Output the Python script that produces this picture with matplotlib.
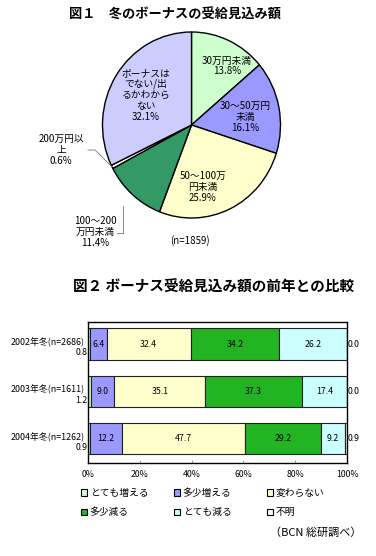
import numpy as np
import matplotlib
matplotlib.use("Agg")
import matplotlib.pyplot as plt
from matplotlib.patches import Patch
from matplotlib.transforms import blended_transform_factory

plt.rcParams['font.family'] = ['Noto Sans CJK JP', 'DejaVu Sans']

### ~~~~~~~~~~~~~~~~~~~~ data ~~~~~~~~~~~~~~~~~~~~ ###
pie_labels = ['30万円未満', '30～50万円\n未満', '50～100万\n円未満', '100～200\n万円未満',
              '200万円以\n上', 'ボーナスは\nでない/出\nるかわから\nない']
pie_values = [13.8, 16.1, 25.9, 11.4, 0.6, 32.1]
pie_colors = ['#ccffcc', '#9999ff', '#ffffcc', '#339966', '#ffffff', '#ccccff']
pie_n = 1859

years = ['2002年冬(n=2686)', '2003年冬(n=1611)', '2004年冬(n=1262)']
categories = ['とても増える', '多少増える', '変わらない', '多少減る', 'とても減る', '不明']
bar_colors = ['#ccffcc', '#9999ff', '#ffffcc', '#22b422', '#ccffff', '#ffffff']
bar_values = np.array([
    [0.8, 6.4, 32.4, 34.2, 26.2, 0.0],
    [1.2, 9.0, 35.1, 37.3, 17.4, 0.0],
    [0.9, 12.2, 47.7, 29.2, 9.2, 0.9],
])
xticks = [0, 20, 40, 60, 80, 100]

W, H = 376, 556
fig = plt.figure(figsize=(W / 100, H / 100), dpi=100)
fig.patch.set_facecolor('white')

def fx(px):
    return px / W

def fy(py):
    return 1 - py / H

### ~~~~~~~~~~~~~~~~~~~~ pie ~~~~~~~~~~~~~~~~~~~~ ###
fig.text(fx(175), fy(15), '図１　冬のボーナスの受給見込み額', ha='center', va='center',
         fontsize=9.5, fontweight='bold')

cx, cy, rx, ry = 191.5, 125, 89, 93
axp = fig.add_axes([fx(cx - rx), fy(cy + ry), 2 * rx / W, 2 * ry / H])
wedges, _ = axp.pie(pie_values, colors=pie_colors, startangle=90, counterclock=False,
                    radius=1.0, wedgeprops=dict(edgecolor='black', linewidth=1.0))
axp.set_aspect('auto')
axp.set_xlim(-1, 1)
axp.set_ylim(-1, 1)
axp.axis('off')

def pd(px, py):
    return ((px - cx) / rx, (cy - py) / ry)

inside = {0: (227, 66), 1: (245, 117), 2: (203, 187), 5: (146, 95)}
for i, pos in inside.items():
    axp.text(*pd(*pos), pie_labels[i] + '\n%.1f%%' % pie_values[i], ha='center', va='center',
             fontsize=7, linespacing=1.12)

# outside labels with leader lines
outside = {4: ((61, 150), (88, 150), 95, 0.5), 3: ((95, 232), (117, 233), 123, 0.8)}
for i, (tpos, lstart, kx, frac) in outside.items():
    w = wedges[i]
    ang = np.deg2rad(w.theta1 + (w.theta2 - w.theta1) * frac)
    axp.text(*pd(*tpos), pie_labels[i] + '\n%.1f%%' % pie_values[i], ha='center', va='center',
             fontsize=7, linespacing=1.12)
    ex, ey = np.cos(ang), np.sin(ang)
    sx, sy = pd(*lstart)
    kxd = (kx - cx) / rx
    if i == 4:
        axp.plot([sx, kxd, ex], [sy, sy, ey], color='#777777', lw=0.6, clip_on=False)
    else:
        axp.plot([sx, kxd, kxd], [sy, sy, ey], color='#777777', lw=0.6, clip_on=False)

axp.text(*pd(190, 241), '(n=%d)' % pie_n, ha='center', va='center', fontsize=7)

### ~~~~~~~~~~~~~~~~~~~~ bars ~~~~~~~~~~~~~~~~~~~~ ###
fig.text(fx(214), fy(287), '図２ ボーナス受給見込み額の前年との比較', ha='center', va='center',
         fontsize=10.5, fontweight='bold')

axb = fig.add_axes([fx(88), fy(463), (347 - 88) / W, (463 - 322) / H])
ypos = np.arange(len(years))
left = np.zeros(len(years))
for j, cat in enumerate(categories):
    axb.barh(ypos, bar_values[:, j], left=left, height=0.66, color=bar_colors[j],
             edgecolor='#222222', linewidth=0.8)
    for k in range(len(years)):
        v = bar_values[k, j]
        if 0 < j < len(categories) - 1:
            axb.text(left[k] + v / 2, ypos[k], '%.1f' % v, ha='center', va='center', fontsize=6.3)
    left += bar_values[:, j]

tr = blended_transform_factory(axb.transAxes, axb.transData)
for k, yl in enumerate(years):
    axb.text(-0.012, ypos[k] - 0.03, yl, transform=tr, ha='right', va='center', fontsize=6.4)
    axb.text(-0.002, ypos[k] + 0.19, '%.1f' % bar_values[k, 0], transform=tr,
             ha='right', va='center', fontsize=6.3)
    axb.text(1.002, ypos[k], '%.1f' % bar_values[k, -1], transform=tr,
             ha='left', va='center', fontsize=6.3)

axb.set_xlim(0, 100)
axb.set_ylim(2.52, -0.466)
axb.set_yticks([])
axb.set_xticks(xticks)
axb.set_xticklabels(['%d%%' % t for t in xticks], fontsize=6.3)
axb.tick_params(axis='x', direction='in', length=2, width=0.6, pad=5, color='#888888')
for s in axb.spines.values():
    s.set_linewidth(1.0)
    s.set_color('black')

### ~~~~~~~~~~~~~~~~~~~~ legend ~~~~~~~~~~~~~~~~~~~~ ###
col_x = [81, 174, 267]
for c in range(3):
    handles = [Patch(facecolor=bar_colors[c], edgecolor='black', linewidth=0.8, label=categories[c]),
               Patch(facecolor=bar_colors[c + 3], edgecolor='black', linewidth=0.8, label=categories[c + 3])]
    fig.legend(handles=handles, loc='upper left', bbox_to_anchor=(fx(col_x[c]), fy(488)),
               frameon=False, fontsize=7, handlelength=0.6, handleheight=0.6,
               handletextpad=0.3, labelspacing=0.95, borderpad=0, borderaxespad=0)

fig.text(fx(362), fy(533), '（BCN 総研調べ）', ha='right', va='center', fontsize=8)

plt.savefig('out.png', dpi=100)
